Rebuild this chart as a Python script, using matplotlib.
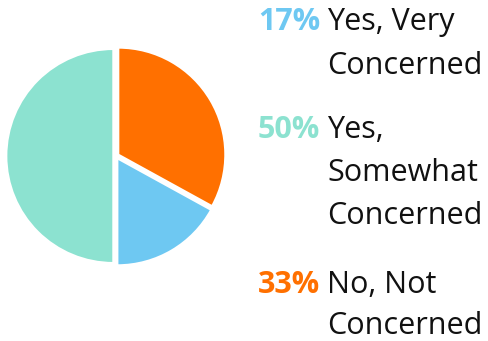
import matplotlib
matplotlib.use("Agg")
import matplotlib.pyplot as plt

categories = ["No, Not\nConcerned", "Yes, Very\nConcerned", "Yes,\nSomewhat\nConcerned"]
values = [33, 17, 50]
colors = ["#FF7000", "#6EC8F2", "#8CE2D0"]

W, H = 489, 341
fig = plt.figure(figsize=(W / 100, H / 100), dpi=100)

cx, cy, r = 116, 156, 107
lim = 1.1
side = 2 * lim * r
ax = fig.add_axes([(cx - side / 2) / W, (H - cy - side / 2) / H, side / W, side / H])
ax.pie(values, colors=colors, startangle=90, counterclock=False,
       explode=[0.025, 0.025, 0.025],
       wedgeprops=dict(edgecolor="white", linewidth=1.5))
ax.set_xlim(-lim, lim)
ax.set_ylim(-lim, lim)
ax.set_aspect("equal")
ax.axis("off")

font = "Open Sans"
fs = 22
# legend entries: (percent index, label lines, y of first line in px, line spacing)
entries = [(1, ["Yes, Very", "Concerned"], 22, 44),
           (2, ["Yes,", "Somewhat", "Concerned"], 130, 43),
           (0, ["No, Not", "Concerned"], 285, 41)]
for idx, lines, y0, dy in entries:
    fig.text(320 / W, 1 - y0 / H, f"{values[idx]}%", color=colors[idx],
             fontsize=fs, fontweight="bold", family=font, ha="right", va="center")
    for k, ln in enumerate(lines):
        fig.text(327 / W, 1 - (y0 + k * dy) / H, ln, color="#111111",
                 fontsize=fs, family=font, ha="left", va="center")

fig.savefig("out.png", dpi=100, facecolor="white")
